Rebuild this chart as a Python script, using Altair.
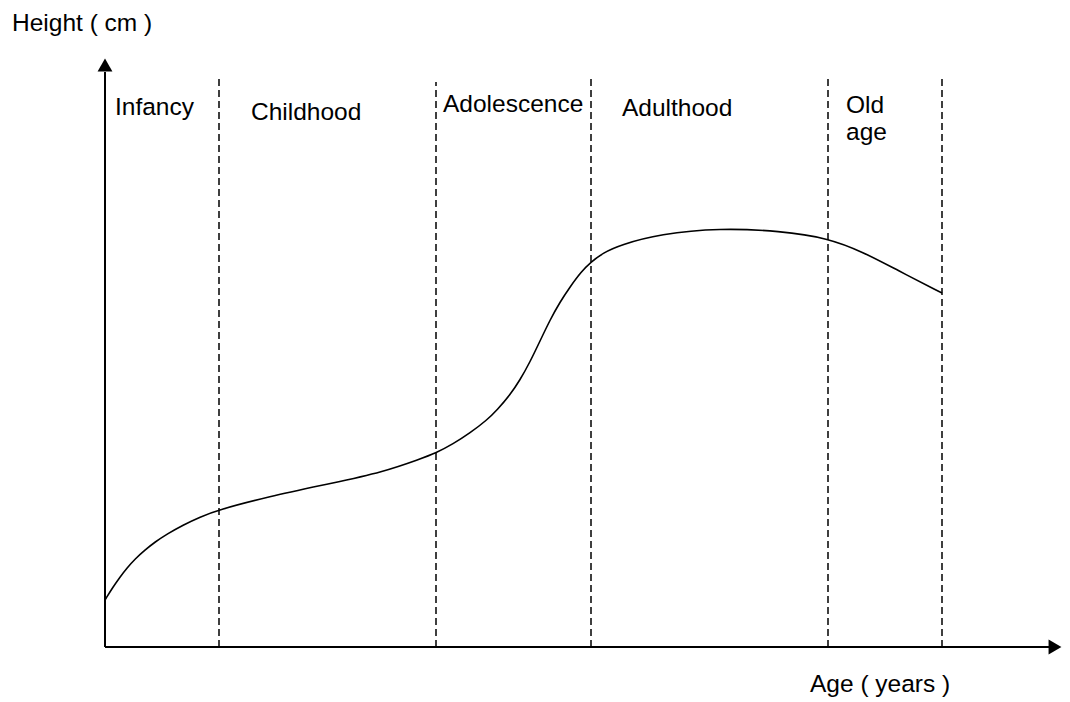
import altair as alt
import pandas as pd

# Curve (schematic units: age offset from origin, height above baseline)
curve_age = [0, 8, 15, 22, 30, 40, 50, 62, 78, 95, 113, 162, 228, 278, 315, 331, 348, 365, 382, 392, 405, 415, 425, 435, 445, 455, 465, 476, 486, 498, 515, 555, 615, 675, 723, 758, 792, 837]
curve_height = [47, 60, 70, 79, 88, 97, 105, 113, 122, 130, 137, 150, 164, 175, 188, 194, 203, 214, 227, 237, 252, 267, 285, 306, 327, 345, 360, 375, 385, 394, 402, 413, 419, 416, 409, 395, 377, 354]

# Stage boundaries
boundary_age = [114, 331, 486, 723, 837]
boundary_top = [569, 565, 570, 570, 570]

# Stage labels
label_text = ["Infancy", "Childhood", "Adolescence", "Adulthood", "Old", "age"]
label_age = [10, 146, 338, 517, 741, 741]
label_height = [532, 527, 535, 531, 534, 507]

# Axis titles
title_text = ["Height ( cm )", "Age ( years )"]
title_age = [-93, 705]
title_height = [616, -45]

W, H = 1054, 690
# page y = 647 - h ; page x = 105 + age
xs = alt.Scale(domain=[-97, -97 + W], nice=False, zero=False)
ys = alt.Scale(domain=[647 - 8 - H, 639], nice=False, zero=False)

curve_df = pd.DataFrame({"age": curve_age, "h": curve_height})
bnd_df = pd.DataFrame({"age": boundary_age, "top": boundary_top, "bottom": [0] * len(boundary_age)})
lab_df = pd.DataFrame({"t": label_text, "age": label_age, "h": label_height})
tit_df = pd.DataFrame({"t": title_text, "age": title_age, "h": title_height})

X = lambda f: alt.X(f, type="quantitative", scale=xs, axis=None)
Y = lambda f: alt.Y(f, type="quantitative", scale=ys, axis=None)

curve = alt.Chart(curve_df).mark_line(interpolate="basis", color="black", strokeWidth=1.6).encode(
    x=X("age"), y=Y("h"))

bounds = alt.Chart(bnd_df).mark_rule(color="black", strokeWidth=1.5, strokeDash=[7, 4]).encode(
    x=X("age"), y=Y("bottom"), y2="top")

axes_df = pd.DataFrame({"x1": [0, 0], "x2": [0, 944], "y1": [0, 0], "y2": [575, 0]})
axes = alt.Chart(axes_df).mark_rule(color="black", strokeWidth=2).encode(
    x=X("x1"), x2="x2", y=Y("y1"), y2="y2")

arrow_up = alt.Chart(pd.DataFrame({"a": [0], "h": [582]})).mark_point(
    shape="triangle-up", filled=True, color="black", size=220, opacity=1).encode(x=X("a"), y=Y("h"))
arrow_right = alt.Chart(pd.DataFrame({"a": [950], "h": [0]})).mark_point(
    shape="triangle-right", filled=True, color="black", size=220, opacity=1).encode(x=X("a"), y=Y("h"))

labels = alt.Chart(lab_df).mark_text(align="left", baseline="alphabetic", font="Liberation Sans",
                                     fontSize=24.5, color="black").encode(x=X("age"), y=Y("h"), text="t")
titles = alt.Chart(tit_df).mark_text(align="left", baseline="alphabetic", font="Liberation Sans",
                                     fontSize=24.5, color="black").encode(x=X("age"), y=Y("h"), text="t")

chart = alt.layer(bounds, axes, curve, arrow_up, arrow_right, labels, titles).properties(
    width=W, height=H, autosize=alt.AutoSizeParams(type="none"), padding=0
).configure_view(stroke=None)

chart.save("out.html", embed_options={"renderer": "svg", "actions": False})
